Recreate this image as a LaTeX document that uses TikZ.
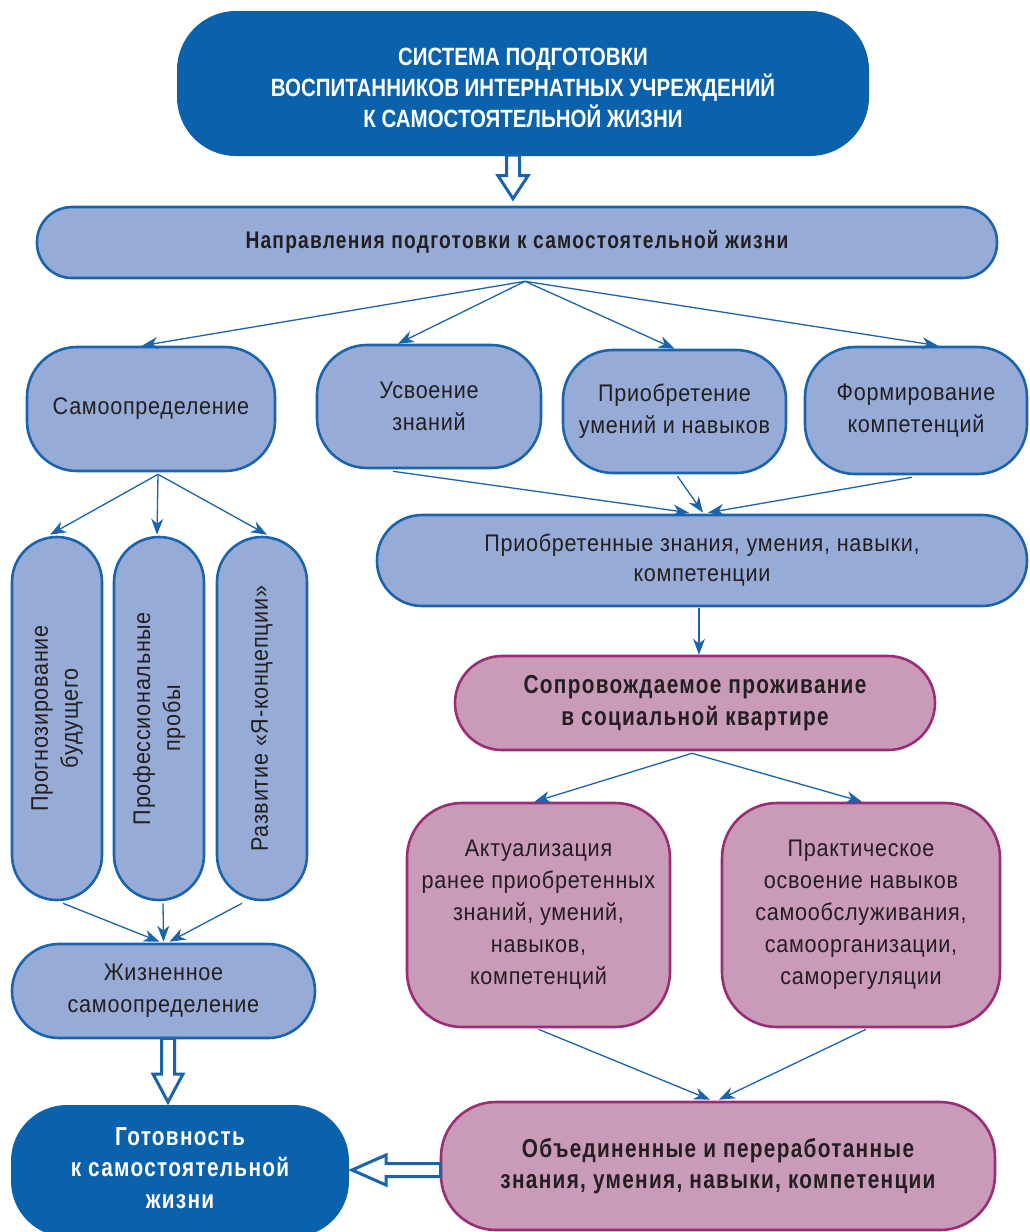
\documentclass[tikz,border=0pt]{standalone}
\usepackage{fontspec}
\setmainfont{Liberation Sans}[FakeStretch=0.9,LetterSpace=3]
\newfontfamily\boldbody{Liberation Sans}[FakeStretch=0.8,LetterSpace=5]
\newfontfamily\titlefam{Liberation Sans}[FakeStretch=0.82]
\usetikzlibrary{arrows.meta,calc}
\definecolor{dblue}{HTML}{0A61AC}
\definecolor{lblue}{HTML}{97ABD7}
\definecolor{bline}{HTML}{1A64AE}
\definecolor{pinkf}{HTML}{C99BB9}
\definecolor{pinkb}{HTML}{9B2D75}
\definecolor{txt}{HTML}{231F20}
\newcommand\harrowdown[5]{%
 \draw[hollow] let \p1=(#1), \p2=(#2) in
 (\x1-#3pt,\y1) -- (\x1-#3pt,\y2+#5pt) -- (\x1-#4pt,\y2+#5pt) -- (\x1,\y2) -- (\x1+#4pt,\y2+#5pt) -- (\x1+#3pt,\y2+#5pt) -- (\x1+#3pt,\y1) -- cycle;}
\newcommand\harrowleft[5]{%
 \draw[hollow] let \p1=(#1), \p2=(#2) in
 (\x1,\y1+#3pt) -- (\x2+#5pt,\y1+#3pt) -- (\x2+#5pt,\y1+#4pt) -- (\x2,\y1) -- (\x2+#5pt,\y1-#4pt) -- (\x2+#5pt,\y1-#3pt) -- (\x1,\y1-#3pt) -- cycle;}
\begin{document}
\begin{tikzpicture}[x=1pt,y=-1pt,
 box/.style={draw=bline,line width=2.6pt,fill=lblue,text=txt,align=center,inner sep=0pt,font=\fontsize{24}{32}\selectfont},
 pbox/.style={box,draw=pinkb,fill=pinkf},
 dbox/.style={draw=dblue,line width=2pt,fill=dblue,text=white,align=center,inner sep=0pt},
 bfont/.style={font=\boldbody\bfseries\fontsize{26}{31.5}\selectfont},
 vtext/.style={rotate=90,align=center,text=txt,font=\fontsize{24}{30}\selectfont,inner sep=0pt},
 conn/.style={draw=bline,line width=1.3pt,-{Stealth[length=16pt,width=12pt,inset=5pt]}},
 hollow/.style={draw=bline,line width=3pt,fill=white,line join=miter}]
\clip (0,0) rectangle (1029,1232);
\fill[white] (0,0) rectangle (1029,1232);

% nodes
\node[dbox,minimum width=690,minimum height=143,rounded corners=58] (top) at (523,83.5) {};
\node[text=white,align=center,inner sep=0pt,font=\titlefam\bfseries\fontsize{25}{31}\selectfont] (topt) at ($(top.center)+(0,4)$)
 {СИСТЕМА ПОДГОТОВКИ\\ВОСПИТАННИКОВ ИНТЕРНАТНЫХ УЧРЕЖДЕНИЙ\\К САМОСТОЯТЕЛЬНОЙ ЖИЗНИ};
\node[box,font=\boldbody\bfseries\fontsize{24}{30}\selectfont,minimum width=960,minimum height=71,rounded corners=35] (dir) at (517,242.5)
 {Направления подготовки к самостоятельной жизни};
\node[box,minimum width=248,minimum height=124,rounded corners=50] (samo) at (151,409) {Самоопределение};
\node[box,minimum width=224,minimum height=123,rounded corners=50] (usv) at (429,406.5) {Усвоение\\знаний};
\node[box,minimum width=223,minimum height=123,rounded corners=50] (prio) at (674.5,411.5) {Приобретение\\умений и навыков};
\node[box,minimum width=222,minimum height=127,rounded corners=50] (form) at (916,410.5) {Формирование\\компетенций};
\node[box,minimum width=650,minimum height=91,rounded corners=45,font=\fontsize{24}{30}\selectfont] (acq) at (702,560.5)
 {Приобретенные знания, умения, навыки,\\компетенции};
\node[pbox,bfont,minimum width=480,minimum height=94,rounded corners=47] (soc) at (695,703)
 {Сопровождаемое проживание\\в социальной квартире};
\node[pbox,minimum width=263,minimum height=224,rounded corners=55] (act) at (538.5,915)
 {Актуализация\\ранее приобретенных\\знаний, умений,\\навыков,\\компетенций};
\node[pbox,minimum width=278,minimum height=224,rounded corners=55] (prak) at (861,915)
 {Практическое\\освоение навыков\\самообслуживания,\\самоорганизации,\\саморегуляции};
\node[pbox,bfont,minimum width=554,minimum height=128,rounded corners=55] (unif) at (718,1166)
 {Объединенные и переработанные\\знания, умения, навыки, компетенции};
\node[dbox,minimum width=336,minimum height=130,rounded corners=55] (got) at (180,1171) {};
\node[text=white,align=center,inner sep=0pt,bfont] (gott) at ($(got.center)+(0,-3)$)
 {Готовность\\к самостоятельной\\жизни};
\node[box,minimum width=90,minimum height=363,rounded corners=45] (p1) at (57,718.5) {};
\node[box,minimum width=90,minimum height=363,rounded corners=45] (p2) at (159,718.5) {};
\node[box,minimum width=90,minimum height=363,rounded corners=45] (p3) at (262,718.5) {};
\node[vtext] (p1t) at (p1) {Прогнозирование\\будущего};
\node[vtext] (p2t) at (p2) {Профессиональные\\пробы};
\node[vtext] (p3t) at (p3) {Развитие «Я-концепции»};
\node[box,minimum width=303,minimum height=94,rounded corners=47] (life) at (163.5,991) {Жизненное\\самоопределение};

% connectors
\coordinate (dirfan) at ($(dir.south)+(8,2)$);
\draw[conn] (dirfan) -- ($(samo.north)+(-9,0)$);
\draw[conn] (dirfan) -- ($(usv.north)+(-31,0)$);
\draw[conn] (dirfan) -- ($(prio.north)+(0,0)$);
\draw[conn] (dirfan) -- ($(form.north)+(22,0)$);

\draw[conn] ($(usv.south)+(-36,2)$) -- ($(acq.north)+(-13,-1)$);
\draw[conn] ($(prio.south)+(3,2)$) -- ($(acq.north)+(1,-1)$);
\draw[conn] ($(form.south)+(-4,2)$) -- ($(acq.north)+(6,-1)$);

\draw[conn] ($(acq.south)+(-3,1)$) -- ($(soc.north)+(4,0)$);

\coordinate (socfan) at ($(soc.south)+(-3,2)$);
\draw[conn] (socfan) -- ($(act.north)+(-4,0)$);
\draw[conn] (socfan) -- ($(prak.north)+(1,0)$);

\draw[conn] ($(act.south)+(0,1)$) -- ($(unif.north)+(-8,-1)$);
\draw[conn] ($(prak.south)+(5,1)$) -- ($(unif.north)+(1,-1)$);

\coordinate (samofan) at ($(samo.south)+(7,2)$);
\draw[conn] (samofan) -- ($(p1.north)+(-7,-1)$);
\draw[conn] (samofan) -- ($(p2.north)+(-2,-1)$);
\draw[conn] (samofan) -- ($(p3.north)+(5,-1)$);

\draw[conn] ($(p1.south)+(6,2)$) -- ($(life.north)+(-4,-1)$);
\draw[conn] ($(p2.south)+(4,2)$) -- ($(life.north)+(0,-1)$);
\draw[conn] ($(p3.south)+(-20,2)$) -- ($(life.north)+(6,-1)$);

% hollow arrows
\harrowdown{$(top.south)+(-10,-1)$}{$(dir.north)+(-4,-7)$}{6.5}{15}{23}
\harrowdown{$(life.south)+(4.5,-1)$}{$(got.north)+(-12,-3)$}{6.5}{15}{28}
\harrowleft{$(unif.west)+(1,4)$}{$(got.east)+(3,-1)$}{6.5}{15}{34}
\end{tikzpicture}
\end{document}
